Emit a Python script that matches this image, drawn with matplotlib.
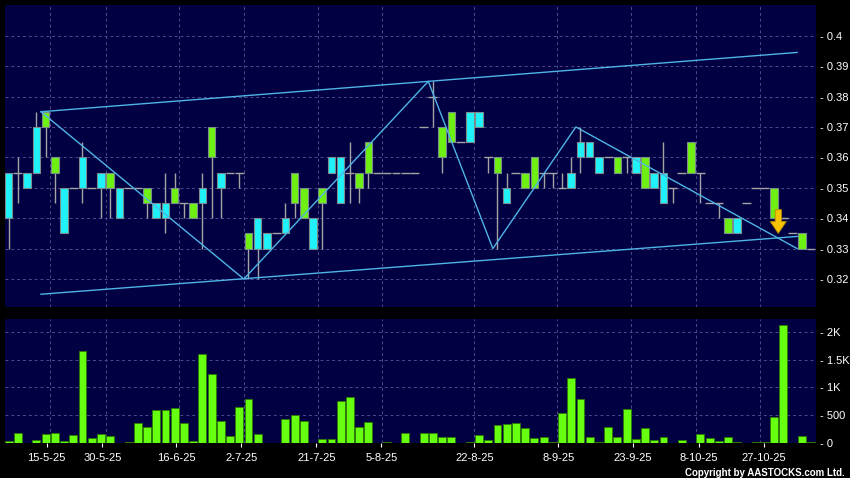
import matplotlib
matplotlib.use('Agg')
import matplotlib.pyplot as plt

plt.rcParams['font.family'] = ['Liberation Sans', 'DejaVu Sans']

# daily prices, one slot per trading day shown on the chart
opens = [.340, .355, .350, .355, .375, .360, .335, .350, .350, .350,
         .350, .355, .340, .350, .350, .350, .340, .340, .350, .345,
         .345, .345, .370, .350, .355, .355, .335, .330, .330, .335,
         .335, .355, .350, .330, .350, .355, .345, .355, .355, .365,
         .355, .355, .355, .355, .355, .370, .380, .370, .375, .365,
         .365, .370, .360, .360, .345, .355, .355, .360, .355, .355,
         .350, .350, .360, .360, .355, .360, .360, .360, .355, .360,
         .350, .345, .350, .355, .365, .355, .345, .345, .340, .335,
         .345, .350, .350, .350, .340, .335, .335, .330]
highs = [.355, .360, .355, .375, .375, .360, .350, .350, .365, .350,
         .355, .355, .350, .350, .350, .350, .345, .355, .355, .345,
         .345, .355, .370, .355, .355, .355, .335, .340, .335, .335,
         .345, .355, .350, .340, .350, .360, .360, .365, .355, .365,
         .355, .355, .355, .355, .355, .370, .385, .370, .375, .365,
         .375, .375, .360, .360, .355, .355, .355, .360, .355, .355,
         .355, .360, .370, .365, .360, .360, .360, .360, .360, .360,
         .355, .365, .350, .355, .365, .355, .345, .345, .340, .340,
         .345, .350, .350, .350, .340, .335, .335, .330]
lows = [.330, .345, .350, .355, .360, .345, .335, .350, .345, .350,
        .340, .340, .340, .350, .350, .340, .340, .335, .345, .340,
        .340, .330, .340, .340, .355, .350, .320, .320, .330, .335,
        .335, .340, .340, .330, .330, .355, .345, .345, .345, .350,
        .355, .355, .355, .355, .355, .370, .370, .355, .365, .365,
        .365, .370, .355, .330, .345, .355, .350, .350, .350, .350,
        .350, .350, .355, .360, .355, .360, .355, .355, .355, .350,
        .350, .345, .345, .355, .355, .345, .345, .340, .335, .335,
        .345, .350, .350, .340, .340, .335, .330, .330]
closes = [.355, .355, .355, .370, .370, .355, .350, .350, .360, .350,
          .355, .350, .350, .350, .350, .345, .345, .345, .345, .345,
          .340, .350, .360, .355, .355, .355, .330, .340, .335, .335,
          .340, .345, .340, .340, .345, .360, .360, .355, .350, .355,
          .355, .355, .355, .355, .355, .370, .380, .360, .365, .365,
          .375, .375, .360, .355, .350, .355, .350, .350, .355, .355,
          .350, .355, .365, .365, .360, .360, .355, .360, .360, .350,
          .355, .355, .350, .355, .355, .355, .345, .345, .335, .340,
          .345, .350, .350, .340, .340, .335, .330, .330]
volume = [36, 174, 0, 48, 162, 174, 36, 144, 1650, 84,
          168, 120, 0, 24, 366, 294, 588, 594, 636, 354,
          30, 1608, 1236, 396, 132, 654, 792, 162, 6, 0,
          432, 504, 396, 0, 72, 72, 750, 822, 294, 384,
          0, 18, 6, 174, 6, 186, 174, 108, 108, 0,
          24, 144, 60, 318, 336, 360, 270, 96, 114, 24,
          534, 1164, 792, 114, 24, 288, 108, 606, 72, 264,
          54, 108, 0, 48, 6, 156, 84, 30, 108, 18,
          0, 24, 24, 462, 2118, 0, 126, 24]

# zigzag turning points (slot, price) and the price channel ends
zz_slot = [3.5, 25.5, 45.5, 52.5, 61.5, 85.5]
zz_price = [0.375, 0.320, 0.385, 0.330, 0.370, 0.330]
chan_slot = [3.5, 85.5]
chan_upper = [0.375, 0.3945]
chan_lower = [0.315, 0.334]

# sell signal marker
signal_slot = 83.45
signal_price = 0.335

date_labels = ['15-5-25', '30-5-25', '16-6-25', '2-7-25', '21-7-25', '5-8-25',
               '22-8-25', '8-9-25', '23-9-25', '8-10-25', '27-10-25']
label_slot = [4.1, 10.15, 18.15, 25.2, 33.35, 40.4, 50.5, 59.6, 67.7, 74.8, 81.9]
grid_slot = [4.5, 10.5, 18.5, 25.5, 33.5, 40.5, 50.5, 59.5, 67.5, 74.5, 81.5]
price_ticks = [0.32, 0.33, 0.34, 0.35, 0.36, 0.37, 0.38, 0.39, 0.40]
price_labels = ['0.32', '0.33', '0.34', '0.35', '0.36', '0.37', '0.38', '0.39', '0.4']
vol_ticks = [0, 500, 1000, 1500, 2000]
vol_labels = ['0', '500', '1K', '1.5K', '2K']

NAVY = '#000042'
GRID = '#4c4c8c'
CYAN = '#1ff2fa'
GREEN = '#6ef012'
WICK = '#a4a4a4'
LINE = '#4fb4e6'

fig = plt.figure(figsize=(8.5, 4.78), dpi=100, facecolor='black')
ax = fig.add_axes([4.5 / 850, 1 - 307 / 478, 811.5 / 850, 302.5 / 478])
axv = fig.add_axes([4.5 / 850, 1 - 443 / 478, 811.5 / 850, 124 / 478])

for a in (ax, axv):
    a.set_facecolor(NAVY)
    for s in a.spines.values():
        s.set_visible(False)
    a.set_xlim(-0.455, 87.54)
    for g in grid_slot:
        a.axvline(g, color=GRID, lw=0.7, ls=(0, (3, 3)), zorder=0)

# price panel
ax.set_ylim(0.3108, 0.41026)
for p in price_ticks:
    ax.axhline(p, color=GRID, lw=0.7, ls=(0, (3, 3)), zorder=0)

w = 0.82
for i in range(len(opens)):
    o, h, l, c = opens[i], highs[i], lows[i], closes[i]
    if h > l:
        ax.vlines(i, l, h, color=WICK, lw=1.0, zorder=2)
    if c == o:
        ax.hlines(o, i - 0.48, i + 0.48, color=WICK, lw=1.0, zorder=2)
    else:
        col = CYAN if c > o else GREEN
        ax.bar(i, abs(c - o), bottom=min(o, c), width=w, color=col,
               edgecolor='#7c8c8c', linewidth=0.8, zorder=3)

ax.plot(zz_slot, zz_price, color=LINE, lw=1.0, zorder=4)
ax.plot(chan_slot, chan_upper, color=LINE, lw=1.0, zorder=4)
ax.plot(chan_slot, chan_lower, color=LINE, lw=1.0, zorder=4)

ax.annotate('', xy=(signal_slot, signal_price), xytext=(signal_slot, signal_price + 0.0078),
            arrowprops=dict(arrowstyle='simple,head_length=0.85,head_width=1.15,tail_width=0.45',
                            fc='#f6c400', ec='#b88a00', lw=0.6, shrinkA=0, shrinkB=0,
                            mutation_scale=10), zorder=6)

ax.yaxis.tick_right()
ax.set_yticks(price_ticks)
ax.set_yticklabels(['- ' + t for t in price_labels])
ax.tick_params(axis='y', length=0, pad=3, colors='white', labelsize=8)
ax.tick_params(axis='x', length=0, labelbottom=False)

# volume panel
axv.set_ylim(0, 2234)
for v in vol_ticks[1:]:
    axv.axhline(v, color=GRID, lw=0.7, ls=(0, (3, 3)), zorder=0)
axv.bar(range(len(volume)), volume, width=0.86, color='#66ff10',
        edgecolor='#2e7a00', linewidth=0.6, zorder=3)
axv.yaxis.tick_right()
axv.set_yticks(vol_ticks)
axv.set_yticklabels(['- ' + t for t in vol_labels])
axv.tick_params(axis='y', length=0, pad=3, colors='white', labelsize=8)
axv.set_xticks(label_slot)
axv.set_xticklabels(date_labels)
axv.tick_params(axis='x', length=3, width=0.8, direction='out', pad=4,
                colors='white', labelsize=8)

fig.text(845 / 850, 1 - 476 / 478, 'Copyright by AASTOCKS.com Ltd.', color='white',
         fontsize=7, fontweight='bold', ha='right', va='baseline')

fig.savefig('out.png', dpi=100, facecolor='black')
